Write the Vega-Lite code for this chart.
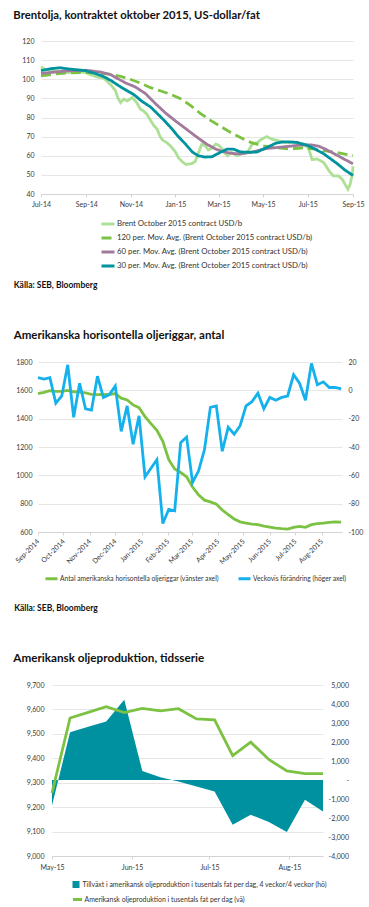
{
  "$schema": "https://vega.github.io/schema/vega-lite/v6.json",
  "padding": {"top": 9, "left": 0, "right": 0, "bottom": 0},
  "spacing": 41,
  "resolve": {"scale": {"color": "independent", "strokeDash": "independent"}, "legend": {"color": "independent", "strokeDash": "independent"}},
  "config": {
    "view": {"stroke": null},
    "font": "Lato",
    "axis": {"labelFont": "Lato", "labelFontSize": 7, "labelColor": "#3a3a3a", "gridColor": "#e6e6e6", "gridWidth": 1, "domainColor": "#d4d4d4", "tickColor": "#d4d4d4", "titleFont": "Lato", "labelOverlap": false, "labelFlush": false, "labelBound": false},
    "legend": {"labelFont": "Lato", "labelColor": "#333333", "padding": 0, "labelLimit": 500},
    "title": {"font": "Lato"}
  },
  "vconcat": [
    {
      "spacing": 12,
      "resolve": {"scale": {"color": "independent", "strokeDash": "independent"}, "legend": {"color": "independent", "strokeDash": "independent"}},
      "hconcat": [
        {"width": 1, "height": 1, "data": {"values": [{"s": 0}]}, "mark": {"type": "point", "size": 1, "opacity": 0}},
        {
          "width": 312,
          "height": 153,
          "title": {"text": "Brentolja, kontraktet oktober 2015, US-dollar/fat", "anchor": "start", "frame": "group", "dx": -27.7, "offset": 16, "font": "Lato", "fontSize": 11.3, "fontWeight": "bold", "color": "#111111"},
          "data": {"values": [
            {"date": "2014-07-01", "series": "Brent October 2015 contract USD/b", "value": 106.5},
            {"date": "2014-07-07", "series": "Brent October 2015 contract USD/b", "value": 105},
            {"date": "2014-07-16", "series": "Brent October 2015 contract USD/b", "value": 104.5},
            {"date": "2014-07-27", "series": "Brent October 2015 contract USD/b", "value": 104},
            {"date": "2014-08-07", "series": "Brent October 2015 contract USD/b", "value": 103.5},
            {"date": "2014-08-21", "series": "Brent October 2015 contract USD/b", "value": 104},
            {"date": "2014-08-31", "series": "Brent October 2015 contract USD/b", "value": 103.5},
            {"date": "2014-09-06", "series": "Brent October 2015 contract USD/b", "value": 102.5},
            {"date": "2014-09-16", "series": "Brent October 2015 contract USD/b", "value": 101.2},
            {"date": "2014-09-25", "series": "Brent October 2015 contract USD/b", "value": 100.5},
            {"date": "2014-09-29", "series": "Brent October 2015 contract USD/b", "value": 99.1},
            {"date": "2014-10-06", "series": "Brent October 2015 contract USD/b", "value": 96.5},
            {"date": "2014-10-11", "series": "Brent October 2015 contract USD/b", "value": 93.9},
            {"date": "2014-10-14", "series": "Brent October 2015 contract USD/b", "value": 90.4},
            {"date": "2014-10-18", "series": "Brent October 2015 contract USD/b", "value": 87.8},
            {"date": "2014-10-22", "series": "Brent October 2015 contract USD/b", "value": 89.6},
            {"date": "2014-10-27", "series": "Brent October 2015 contract USD/b", "value": 88.7},
            {"date": "2014-11-03", "series": "Brent October 2015 contract USD/b", "value": 90.4},
            {"date": "2014-11-09", "series": "Brent October 2015 contract USD/b", "value": 87.8},
            {"date": "2014-11-14", "series": "Brent October 2015 contract USD/b", "value": 84.4},
            {"date": "2014-11-18", "series": "Brent October 2015 contract USD/b", "value": 83.5},
            {"date": "2014-11-23", "series": "Brent October 2015 contract USD/b", "value": 81.7},
            {"date": "2014-11-28", "series": "Brent October 2015 contract USD/b", "value": 78.5},
            {"date": "2014-12-02", "series": "Brent October 2015 contract USD/b", "value": 76},
            {"date": "2014-12-07", "series": "Brent October 2015 contract USD/b", "value": 73.9},
            {"date": "2014-12-11", "series": "Brent October 2015 contract USD/b", "value": 70},
            {"date": "2014-12-15", "series": "Brent October 2015 contract USD/b", "value": 68},
            {"date": "2014-12-20", "series": "Brent October 2015 contract USD/b", "value": 66.9},
            {"date": "2014-12-25", "series": "Brent October 2015 contract USD/b", "value": 65.2},
            {"date": "2015-01-01", "series": "Brent October 2015 contract USD/b", "value": 62},
            {"date": "2015-01-05", "series": "Brent October 2015 contract USD/b", "value": 59},
            {"date": "2015-01-10", "series": "Brent October 2015 contract USD/b", "value": 57},
            {"date": "2015-01-15", "series": "Brent October 2015 contract USD/b", "value": 55.5},
            {"date": "2015-01-19", "series": "Brent October 2015 contract USD/b", "value": 55.6},
            {"date": "2015-01-24", "series": "Brent October 2015 contract USD/b", "value": 56},
            {"date": "2015-01-28", "series": "Brent October 2015 contract USD/b", "value": 57},
            {"date": "2015-02-02", "series": "Brent October 2015 contract USD/b", "value": 62},
            {"date": "2015-02-06", "series": "Brent October 2015 contract USD/b", "value": 66},
            {"date": "2015-02-11", "series": "Brent October 2015 contract USD/b", "value": 65.2},
            {"date": "2015-02-15", "series": "Brent October 2015 contract USD/b", "value": 63},
            {"date": "2015-02-20", "series": "Brent October 2015 contract USD/b", "value": 64},
            {"date": "2015-02-25", "series": "Brent October 2015 contract USD/b", "value": 66.1},
            {"date": "2015-03-01", "series": "Brent October 2015 contract USD/b", "value": 65.5},
            {"date": "2015-03-05", "series": "Brent October 2015 contract USD/b", "value": 64},
            {"date": "2015-03-08", "series": "Brent October 2015 contract USD/b", "value": 62.5},
            {"date": "2015-03-13", "series": "Brent October 2015 contract USD/b", "value": 60},
            {"date": "2015-03-19", "series": "Brent October 2015 contract USD/b", "value": 61.7},
            {"date": "2015-03-26", "series": "Brent October 2015 contract USD/b", "value": 60},
            {"date": "2015-04-02", "series": "Brent October 2015 contract USD/b", "value": 61},
            {"date": "2015-04-07", "series": "Brent October 2015 contract USD/b", "value": 61.5},
            {"date": "2015-04-11", "series": "Brent October 2015 contract USD/b", "value": 62.6},
            {"date": "2015-04-16", "series": "Brent October 2015 contract USD/b", "value": 66.1},
            {"date": "2015-04-23", "series": "Brent October 2015 contract USD/b", "value": 66.9},
            {"date": "2015-04-29", "series": "Brent October 2015 contract USD/b", "value": 68.7},
            {"date": "2015-05-06", "series": "Brent October 2015 contract USD/b", "value": 70},
            {"date": "2015-05-13", "series": "Brent October 2015 contract USD/b", "value": 68.7},
            {"date": "2015-05-22", "series": "Brent October 2015 contract USD/b", "value": 67.8},
            {"date": "2015-05-31", "series": "Brent October 2015 contract USD/b", "value": 66.9},
            {"date": "2015-06-07", "series": "Brent October 2015 contract USD/b", "value": 67.3},
            {"date": "2015-06-16", "series": "Brent October 2015 contract USD/b", "value": 66.9},
            {"date": "2015-06-25", "series": "Brent October 2015 contract USD/b", "value": 66.1},
            {"date": "2015-07-02", "series": "Brent October 2015 contract USD/b", "value": 64},
            {"date": "2015-07-07", "series": "Brent October 2015 contract USD/b", "value": 58},
            {"date": "2015-07-14", "series": "Brent October 2015 contract USD/b", "value": 58.3},
            {"date": "2015-07-23", "series": "Brent October 2015 contract USD/b", "value": 56.5},
            {"date": "2015-07-30", "series": "Brent October 2015 contract USD/b", "value": 52.2},
            {"date": "2015-08-05", "series": "Brent October 2015 contract USD/b", "value": 49.5},
            {"date": "2015-08-12", "series": "Brent October 2015 contract USD/b", "value": 49.5},
            {"date": "2015-08-17", "series": "Brent October 2015 contract USD/b", "value": 47.8},
            {"date": "2015-08-21", "series": "Brent October 2015 contract USD/b", "value": 45.2},
            {"date": "2015-08-25", "series": "Brent October 2015 contract USD/b", "value": 42.5},
            {"date": "2015-08-28", "series": "Brent October 2015 contract USD/b", "value": 45},
            {"date": "2015-08-31", "series": "Brent October 2015 contract USD/b", "value": 50},
            {"date": "2015-09-01", "series": "Brent October 2015 contract USD/b", "value": 54.5},
            {"date": "2014-07-01", "series": "120 per. Mov. Avg. (Brent October 2015 contract USD/b)", "value": 101.8},
            {"date": "2014-07-21", "series": "120 per. Mov. Avg. (Brent October 2015 contract USD/b)", "value": 102.8},
            {"date": "2014-08-10", "series": "120 per. Mov. Avg. (Brent October 2015 contract USD/b)", "value": 103.3},
            {"date": "2014-09-04", "series": "120 per. Mov. Avg. (Brent October 2015 contract USD/b)", "value": 103.5},
            {"date": "2014-09-20", "series": "120 per. Mov. Avg. (Brent October 2015 contract USD/b)", "value": 103.2},
            {"date": "2014-10-04", "series": "120 per. Mov. Avg. (Brent October 2015 contract USD/b)", "value": 102.6},
            {"date": "2014-10-18", "series": "120 per. Mov. Avg. (Brent October 2015 contract USD/b)", "value": 101.5},
            {"date": "2014-10-31", "series": "120 per. Mov. Avg. (Brent October 2015 contract USD/b)", "value": 100},
            {"date": "2014-11-14", "series": "120 per. Mov. Avg. (Brent October 2015 contract USD/b)", "value": 98},
            {"date": "2014-11-28", "series": "120 per. Mov. Avg. (Brent October 2015 contract USD/b)", "value": 95.6},
            {"date": "2014-12-11", "series": "120 per. Mov. Avg. (Brent October 2015 contract USD/b)", "value": 94},
            {"date": "2014-12-25", "series": "120 per. Mov. Avg. (Brent October 2015 contract USD/b)", "value": 92.2},
            {"date": "2015-01-08", "series": "120 per. Mov. Avg. (Brent October 2015 contract USD/b)", "value": 89.8},
            {"date": "2015-01-21", "series": "120 per. Mov. Avg. (Brent October 2015 contract USD/b)", "value": 86.5},
            {"date": "2015-02-04", "series": "120 per. Mov. Avg. (Brent October 2015 contract USD/b)", "value": 82.2},
            {"date": "2015-02-18", "series": "120 per. Mov. Avg. (Brent October 2015 contract USD/b)", "value": 78.5},
            {"date": "2015-03-06", "series": "120 per. Mov. Avg. (Brent October 2015 contract USD/b)", "value": 74.8},
            {"date": "2015-03-17", "series": "120 per. Mov. Avg. (Brent October 2015 contract USD/b)", "value": 72.3},
            {"date": "2015-03-31", "series": "120 per. Mov. Avg. (Brent October 2015 contract USD/b)", "value": 69.5},
            {"date": "2015-04-14", "series": "120 per. Mov. Avg. (Brent October 2015 contract USD/b)", "value": 67},
            {"date": "2015-04-27", "series": "120 per. Mov. Avg. (Brent October 2015 contract USD/b)", "value": 65.5},
            {"date": "2015-05-11", "series": "120 per. Mov. Avg. (Brent October 2015 contract USD/b)", "value": 64.5},
            {"date": "2015-05-25", "series": "120 per. Mov. Avg. (Brent October 2015 contract USD/b)", "value": 64},
            {"date": "2015-06-07", "series": "120 per. Mov. Avg. (Brent October 2015 contract USD/b)", "value": 63.5},
            {"date": "2015-06-25", "series": "120 per. Mov. Avg. (Brent October 2015 contract USD/b)", "value": 64.2},
            {"date": "2015-07-11", "series": "120 per. Mov. Avg. (Brent October 2015 contract USD/b)", "value": 63.5},
            {"date": "2015-07-25", "series": "120 per. Mov. Avg. (Brent October 2015 contract USD/b)", "value": 62.6},
            {"date": "2015-08-08", "series": "120 per. Mov. Avg. (Brent October 2015 contract USD/b)", "value": 61.8},
            {"date": "2015-08-21", "series": "120 per. Mov. Avg. (Brent October 2015 contract USD/b)", "value": 60.8},
            {"date": "2015-09-01", "series": "120 per. Mov. Avg. (Brent October 2015 contract USD/b)", "value": 60.2},
            {"date": "2014-07-01", "series": "60 per. Mov. Avg. (Brent October 2015 contract USD/b)", "value": 103},
            {"date": "2014-07-21", "series": "60 per. Mov. Avg. (Brent October 2015 contract USD/b)", "value": 103.8},
            {"date": "2014-08-10", "series": "60 per. Mov. Avg. (Brent October 2015 contract USD/b)", "value": 104.5},
            {"date": "2014-08-31", "series": "60 per. Mov. Avg. (Brent October 2015 contract USD/b)", "value": 104.7},
            {"date": "2014-09-20", "series": "60 per. Mov. Avg. (Brent October 2015 contract USD/b)", "value": 103.8},
            {"date": "2014-10-04", "series": "60 per. Mov. Avg. (Brent October 2015 contract USD/b)", "value": 102.5},
            {"date": "2014-10-24", "series": "60 per. Mov. Avg. (Brent October 2015 contract USD/b)", "value": 98.2},
            {"date": "2014-11-07", "series": "60 per. Mov. Avg. (Brent October 2015 contract USD/b)", "value": 96},
            {"date": "2014-11-21", "series": "60 per. Mov. Avg. (Brent October 2015 contract USD/b)", "value": 92.5},
            {"date": "2014-12-04", "series": "60 per. Mov. Avg. (Brent October 2015 contract USD/b)", "value": 87.5},
            {"date": "2014-12-18", "series": "60 per. Mov. Avg. (Brent October 2015 contract USD/b)", "value": 82.5},
            {"date": "2015-01-01", "series": "60 per. Mov. Avg. (Brent October 2015 contract USD/b)", "value": 78.2},
            {"date": "2015-01-15", "series": "60 per. Mov. Avg. (Brent October 2015 contract USD/b)", "value": 74.2},
            {"date": "2015-01-28", "series": "60 per. Mov. Avg. (Brent October 2015 contract USD/b)", "value": 70.4},
            {"date": "2015-02-13", "series": "60 per. Mov. Avg. (Brent October 2015 contract USD/b)", "value": 66},
            {"date": "2015-02-25", "series": "60 per. Mov. Avg. (Brent October 2015 contract USD/b)", "value": 63.5},
            {"date": "2015-03-08", "series": "60 per. Mov. Avg. (Brent October 2015 contract USD/b)", "value": 62},
            {"date": "2015-03-20", "series": "60 per. Mov. Avg. (Brent October 2015 contract USD/b)", "value": 61.2},
            {"date": "2015-03-31", "series": "60 per. Mov. Avg. (Brent October 2015 contract USD/b)", "value": 61},
            {"date": "2015-04-14", "series": "60 per. Mov. Avg. (Brent October 2015 contract USD/b)", "value": 61.8},
            {"date": "2015-04-23", "series": "60 per. Mov. Avg. (Brent October 2015 contract USD/b)", "value": 62.6},
            {"date": "2015-05-06", "series": "60 per. Mov. Avg. (Brent October 2015 contract USD/b)", "value": 63.8},
            {"date": "2015-05-20", "series": "60 per. Mov. Avg. (Brent October 2015 contract USD/b)", "value": 64.3},
            {"date": "2015-06-07", "series": "60 per. Mov. Avg. (Brent October 2015 contract USD/b)", "value": 65},
            {"date": "2015-06-21", "series": "60 per. Mov. Avg. (Brent October 2015 contract USD/b)", "value": 65.6},
            {"date": "2015-07-05", "series": "60 per. Mov. Avg. (Brent October 2015 contract USD/b)", "value": 65.7},
            {"date": "2015-07-16", "series": "60 per. Mov. Avg. (Brent October 2015 contract USD/b)", "value": 65},
            {"date": "2015-07-25", "series": "60 per. Mov. Avg. (Brent October 2015 contract USD/b)", "value": 63.5},
            {"date": "2015-08-08", "series": "60 per. Mov. Avg. (Brent October 2015 contract USD/b)", "value": 60.7},
            {"date": "2015-08-21", "series": "60 per. Mov. Avg. (Brent October 2015 contract USD/b)", "value": 58},
            {"date": "2015-09-01", "series": "60 per. Mov. Avg. (Brent October 2015 contract USD/b)", "value": 55.8},
            {"date": "2014-07-01", "series": "30 per. Mov. Avg. (Brent October 2015 contract USD/b)", "value": 104.5},
            {"date": "2014-07-14", "series": "30 per. Mov. Avg. (Brent October 2015 contract USD/b)", "value": 105.5},
            {"date": "2014-07-27", "series": "30 per. Mov. Avg. (Brent October 2015 contract USD/b)", "value": 106},
            {"date": "2014-08-10", "series": "30 per. Mov. Avg. (Brent October 2015 contract USD/b)", "value": 105.3},
            {"date": "2014-08-31", "series": "30 per. Mov. Avg. (Brent October 2015 contract USD/b)", "value": 104.5},
            {"date": "2014-09-13", "series": "30 per. Mov. Avg. (Brent October 2015 contract USD/b)", "value": 103},
            {"date": "2014-09-23", "series": "30 per. Mov. Avg. (Brent October 2015 contract USD/b)", "value": 101.7},
            {"date": "2014-10-04", "series": "30 per. Mov. Avg. (Brent October 2015 contract USD/b)", "value": 99.5},
            {"date": "2014-10-20", "series": "30 per. Mov. Avg. (Brent October 2015 contract USD/b)", "value": 95.5},
            {"date": "2014-11-05", "series": "30 per. Mov. Avg. (Brent October 2015 contract USD/b)", "value": 92},
            {"date": "2014-11-16", "series": "30 per. Mov. Avg. (Brent October 2015 contract USD/b)", "value": 88.5},
            {"date": "2014-11-28", "series": "30 per. Mov. Avg. (Brent October 2015 contract USD/b)", "value": 85.5},
            {"date": "2014-12-14", "series": "30 per. Mov. Avg. (Brent October 2015 contract USD/b)", "value": 79.5},
            {"date": "2014-12-25", "series": "30 per. Mov. Avg. (Brent October 2015 contract USD/b)", "value": 75},
            {"date": "2015-01-05", "series": "30 per. Mov. Avg. (Brent October 2015 contract USD/b)", "value": 70},
            {"date": "2015-01-15", "series": "30 per. Mov. Avg. (Brent October 2015 contract USD/b)", "value": 66},
            {"date": "2015-01-24", "series": "30 per. Mov. Avg. (Brent October 2015 contract USD/b)", "value": 62},
            {"date": "2015-02-01", "series": "30 per. Mov. Avg. (Brent October 2015 contract USD/b)", "value": 60},
            {"date": "2015-02-11", "series": "30 per. Mov. Avg. (Brent October 2015 contract USD/b)", "value": 59.3},
            {"date": "2015-02-20", "series": "30 per. Mov. Avg. (Brent October 2015 contract USD/b)", "value": 59.5},
            {"date": "2015-03-03", "series": "30 per. Mov. Avg. (Brent October 2015 contract USD/b)", "value": 61.7},
            {"date": "2015-03-13", "series": "30 per. Mov. Avg. (Brent October 2015 contract USD/b)", "value": 63.5},
            {"date": "2015-03-21", "series": "30 per. Mov. Avg. (Brent October 2015 contract USD/b)", "value": 63.5},
            {"date": "2015-03-31", "series": "30 per. Mov. Avg. (Brent October 2015 contract USD/b)", "value": 62},
            {"date": "2015-04-14", "series": "30 per. Mov. Avg. (Brent October 2015 contract USD/b)", "value": 61.8},
            {"date": "2015-04-23", "series": "30 per. Mov. Avg. (Brent October 2015 contract USD/b)", "value": 62},
            {"date": "2015-05-06", "series": "30 per. Mov. Avg. (Brent October 2015 contract USD/b)", "value": 64.3},
            {"date": "2015-05-18", "series": "30 per. Mov. Avg. (Brent October 2015 contract USD/b)", "value": 66.5},
            {"date": "2015-05-29", "series": "30 per. Mov. Avg. (Brent October 2015 contract USD/b)", "value": 67.3},
            {"date": "2015-06-16", "series": "30 per. Mov. Avg. (Brent October 2015 contract USD/b)", "value": 67},
            {"date": "2015-06-30", "series": "30 per. Mov. Avg. (Brent October 2015 contract USD/b)", "value": 65.5},
            {"date": "2015-07-11", "series": "30 per. Mov. Avg. (Brent October 2015 contract USD/b)", "value": 63.5},
            {"date": "2015-07-23", "series": "30 per. Mov. Avg. (Brent October 2015 contract USD/b)", "value": 61},
            {"date": "2015-08-10", "series": "30 per. Mov. Avg. (Brent October 2015 contract USD/b)", "value": 56},
            {"date": "2015-08-21", "series": "30 per. Mov. Avg. (Brent October 2015 contract USD/b)", "value": 52.5},
            {"date": "2015-09-01", "series": "30 per. Mov. Avg. (Brent October 2015 contract USD/b)", "value": 49.7}
          ]},
          "mark": {"type": "line", "strokeWidth": 2.8},
          "encoding": {
            "x": {"field": "date", "type": "temporal",
              "scale": {"type": "utc", "domain": [{"year": 2014, "month": 7, "date": 1, "utc": true}, {"year": 2015, "month": 9, "date": 1, "utc": true}]},
              "axis": {"title": "Källa: SEB, Bloomberg", "titleX": -27.7, "titleY": 93, "titleAlign": "left", "titleAnchor": null, "titleBaseline": "alphabetic", "titleFontSize": 8.5, "titleFontWeight": "bold", "titleColor": "#111111",
                "values": [{"year": 2014, "month": 7, "date": 1, "utc": true}, {"year": 2014, "month": 9, "date": 1, "utc": true}, {"year": 2014, "month": 11, "date": 1, "utc": true}, {"year": 2015, "month": 1, "date": 1, "utc": true}, {"year": 2015, "month": 3, "date": 1, "utc": true}, {"year": 2015, "month": 5, "date": 1, "utc": true}, {"year": 2015, "month": 7, "date": 1, "utc": true}, {"year": 2015, "month": 9, "date": 1, "utc": true}],
                "format": "%b-%y", "grid": false, "domain": true, "ticks": true, "tickSize": 3, "labelPadding": 3}},
            "y": {"field": "value", "type": "quantitative", "scale": {"domain": [40, 120]},
              "axis": {"title": null, "values": [40, 50, 60, 70, 80, 90, 100, 110, 120], "grid": true, "domain": false, "ticks": false, "labelPadding": 7}},
            "color": {"field": "series", "type": "nominal",
              "scale": {"domain": ["Brent October 2015 contract USD/b", "120 per. Mov. Avg. (Brent October 2015 contract USD/b)", "60 per. Mov. Avg. (Brent October 2015 contract USD/b)", "30 per. Mov. Avg. (Brent October 2015 contract USD/b)"], "range": ["#addf95", "#7cc242", "#a27a9c", "#00939e"]},
              "legend": {"title": null, "orient": "none", "legendX": 59, "legendY": 175, "direction": "vertical", "symbolType": "stroke", "symbolSize": 169, "symbolStrokeWidth": 3, "labelFontSize": 7.8, "rowPadding": -6, "labelOffset": 1}},
            "strokeDash": {"field": "series", "type": "nominal",
              "scale": {"domain": ["Brent October 2015 contract USD/b", "120 per. Mov. Avg. (Brent October 2015 contract USD/b)", "60 per. Mov. Avg. (Brent October 2015 contract USD/b)", "30 per. Mov. Avg. (Brent October 2015 contract USD/b)"], "range": [[1, 0], [10, 5], [1, 0], [1, 0]]},
              "legend": {"title": null, "orient": "none", "legendX": 59, "legendY": 175, "direction": "vertical", "symbolType": "stroke", "symbolSize": 169, "symbolStrokeWidth": 3, "labelFontSize": 7.8, "rowPadding": -6, "labelOffset": 1}}
          }
        }
      ]
    },
    {
      "spacing": 12,
      "resolve": {"scale": {"color": "independent"}, "legend": {"color": "independent"}},
      "hconcat": [
        {"width": 1, "height": 1, "data": {"values": [{"s": 0}]}, "mark": {"type": "point", "size": 1, "opacity": 0}},
        {
          "width": 304,
          "height": 170,
          "title": {"text": "Amerikanska horisontella oljeriggar, antal", "anchor": "start", "frame": "group", "dx": -24.3, "offset": 16, "font": "Lato", "fontSize": 11.5, "fontWeight": "bold", "color": "#111111"},
          "data": {"values": [
            {"date": "2014-09-01", "rigs": 1577, "change": 9},
            {"date": "2014-09-08", "rigs": 1586, "change": 8},
            {"date": "2014-09-15", "rigs": 1597, "change": 9},
            {"date": "2014-09-22", "rigs": 1593, "change": -9},
            {"date": "2014-09-29", "rigs": 1593, "change": -4},
            {"date": "2014-10-06", "rigs": 1600, "change": 18},
            {"date": "2014-10-13", "rigs": 1590, "change": -19},
            {"date": "2014-10-20", "rigs": 1588, "change": 5},
            {"date": "2014-10-27", "rigs": 1582, "change": -13},
            {"date": "2014-11-03", "rigs": 1572, "change": -14},
            {"date": "2014-11-10", "rigs": 1570, "change": 10},
            {"date": "2014-11-17", "rigs": 1572, "change": -5},
            {"date": "2014-11-24", "rigs": 1570, "change": -3},
            {"date": "2014-12-01", "rigs": 1577, "change": 3},
            {"date": "2014-12-08", "rigs": 1545, "change": -29},
            {"date": "2014-12-15", "rigs": 1532, "change": -11},
            {"date": "2014-12-22", "rigs": 1497, "change": -38},
            {"date": "2014-12-29", "rigs": 1478, "change": -18},
            {"date": "2015-01-05", "rigs": 1415, "change": -61},
            {"date": "2015-01-12", "rigs": 1365, "change": -55},
            {"date": "2015-01-19", "rigs": 1318, "change": -49},
            {"date": "2015-01-26", "rigs": 1240, "change": -94},
            {"date": "2015-02-02", "rigs": 1110, "change": -84},
            {"date": "2015-02-09", "rigs": 1045, "change": -85},
            {"date": "2015-02-16", "rigs": 1020, "change": -37},
            {"date": "2015-02-23", "rigs": 990, "change": -33},
            {"date": "2015-03-02", "rigs": 917, "change": -65},
            {"date": "2015-03-09", "rigs": 862, "change": -57},
            {"date": "2015-03-16", "rigs": 825, "change": -42},
            {"date": "2015-03-23", "rigs": 813, "change": -12},
            {"date": "2015-03-30", "rigs": 797, "change": -11},
            {"date": "2015-04-06", "rigs": 755, "change": -43},
            {"date": "2015-04-13", "rigs": 722, "change": -26},
            {"date": "2015-04-20", "rigs": 692, "change": -31},
            {"date": "2015-04-27", "rigs": 672, "change": -25},
            {"date": "2015-05-04", "rigs": 663, "change": -11},
            {"date": "2015-05-11", "rigs": 656, "change": -8},
            {"date": "2015-05-18", "rigs": 652, "change": -2},
            {"date": "2015-05-25", "rigs": 642, "change": -13},
            {"date": "2015-06-01", "rigs": 635, "change": -5},
            {"date": "2015-06-08", "rigs": 628, "change": -7},
            {"date": "2015-06-15", "rigs": 624, "change": -5},
            {"date": "2015-06-22", "rigs": 621, "change": -4},
            {"date": "2015-06-29", "rigs": 632, "change": 11},
            {"date": "2015-07-06", "rigs": 640, "change": 5},
            {"date": "2015-07-13", "rigs": 633, "change": -7},
            {"date": "2015-07-20", "rigs": 652, "change": 19},
            {"date": "2015-07-27", "rigs": 659, "change": 4},
            {"date": "2015-08-03", "rigs": 663, "change": 6},
            {"date": "2015-08-10", "rigs": 668, "change": 2},
            {"date": "2015-08-17", "rigs": 672, "change": 2},
            {"date": "2015-08-24", "rigs": 670, "change": 1}
          ]},
          "encoding": {
            "x": {"field": "date", "type": "temporal",
              "scale": {"type": "utc", "domain": [{"year": 2014, "month": 9, "date": 1, "utc": true}, {"year": 2015, "month": 8, "date": 25, "utc": true}]},
              "axis": {"title": "Källa: SEB, Bloomberg", "titleX": -24.3, "titleY": 78, "titleAlign": "left", "titleAnchor": null, "titleBaseline": "alphabetic", "titleFontSize": 8.5, "titleFontWeight": "bold", "titleColor": "#111111",
                "values": [{"year": 2014, "month": 9, "date": 1, "utc": true}, {"year": 2014, "month": 10, "date": 1, "utc": true}, {"year": 2014, "month": 11, "date": 1, "utc": true}, {"year": 2014, "month": 12, "date": 1, "utc": true}, {"year": 2015, "month": 1, "date": 1, "utc": true}, {"year": 2015, "month": 2, "date": 1, "utc": true}, {"year": 2015, "month": 3, "date": 1, "utc": true}, {"year": 2015, "month": 4, "date": 1, "utc": true}, {"year": 2015, "month": 5, "date": 1, "utc": true}, {"year": 2015, "month": 6, "date": 1, "utc": true}, {"year": 2015, "month": 7, "date": 1, "utc": true}, {"year": 2015, "month": 8, "date": 1, "utc": true}],
                "format": "%b-%Y", "labelAngle": -45, "labelAlign": "right", "labelBaseline": "middle", "grid": false, "domain": true, "ticks": true, "tickSize": 3, "labelPadding": 5}}
          },
          "layer": [
            {
              "mark": {"type": "line", "strokeWidth": 2.8},
              "encoding": {
                "y": {"field": "rigs", "type": "quantitative", "scale": {"domain": [600, 1800]},
                  "axis": {"orient": "left", "title": null, "values": [600, 800, 1000, 1200, 1400, 1600, 1800], "labelExpr": "'' + datum.value", "grid": true, "domain": false, "ticks": false, "labelPadding": 6}},
                "color": {"datum": "Antal amerikanska horisontella oljeriggar (vänster axel)",
                  "scale": {"domain": ["Antal amerikanska horisontella oljeriggar (vänster axel)", "Veckovis förändring (höger axel)"], "range": ["#7cc242", "#14b1ec"]},
                  "legend": {"title": null, "orient": "none", "legendX": 6, "legendY": 209, "direction": "horizontal", "symbolType": "stroke", "symbolSize": 144, "symbolStrokeWidth": 3, "labelFontSize": 6.7, "columnPadding": 13, "labelOffset": 1}}
              }
            },
            {
              "mark": {"type": "line", "strokeWidth": 2.8},
              "encoding": {
                "y": {"field": "change", "type": "quantitative", "scale": {"domain": [-100, 20]},
                  "axis": {"orient": "right", "title": null, "values": [-100, -80, -60, -40, -20, 0, 20], "grid": false, "domain": false, "ticks": false, "labelPadding": 6, "labelExpr": "datum.value < 0 ? '-' + (-datum.value) : '' + datum.value"}},
                "color": {"datum": "Veckovis förändring (höger axel)"}
              }
            }
          ],
          "resolve": {"scale": {"y": "independent"}}
        }
      ]
    },
    {
      "spacing": 12,
      "resolve": {"scale": {"color": "independent"}, "legend": {"color": "independent"}},
      "hconcat": [
        {"width": 1, "height": 1, "data": {"values": [{"s": 0}]}, "mark": {"type": "point", "size": 1, "opacity": 0}},
        {
          "width": 271,
          "height": 171,
          "title": {"text": "Amerikansk oljeproduktion, tidsserie", "anchor": "start", "frame": "group", "dx": -38.7, "offset": 16, "font": "Lato", "fontSize": 11.7, "fontWeight": "bold", "color": "#111111"},
          "data": {"values": [
            {"date": "2015-05-01", "prod": 9258, "growth": -1340},
            {"date": "2015-05-08", "prod": 9565, "growth": 2517},
            {"date": "2015-05-15", "prod": 9588, "growth": 2800},
            {"date": "2015-05-22", "prod": 9611, "growth": 3074},
            {"date": "2015-05-29", "prod": 9587, "growth": 4230},
            {"date": "2015-06-05", "prod": 9604, "growth": 468},
            {"date": "2015-06-12", "prod": 9594, "growth": 150},
            {"date": "2015-06-19", "prod": 9603, "growth": -79},
            {"date": "2015-06-26", "prod": 9561, "growth": -340},
            {"date": "2015-07-03", "prod": 9557, "growth": -604},
            {"date": "2015-07-10", "prod": 9411, "growth": -2354},
            {"date": "2015-07-17", "prod": 9466, "growth": -1829},
            {"date": "2015-07-24", "prod": 9395, "growth": -2213},
            {"date": "2015-07-31", "prod": 9348, "growth": -2738},
            {"date": "2015-08-07", "prod": 9337, "growth": -1040},
            {"date": "2015-08-14", "prod": 9337, "growth": -1655}
          ]},
          "encoding": {
            "x": {"field": "date", "type": "temporal",
              "scale": {"type": "utc", "domain": [{"year": 2015, "month": 5, "date": 1, "utc": true}, {"year": 2015, "month": 8, "date": 14, "utc": true}]},
              "axis": {"title": null,
                "values": [{"year": 2015, "month": 5, "date": 1, "utc": true}, {"year": 2015, "month": 6, "date": 1, "utc": true}, {"year": 2015, "month": 7, "date": 1, "utc": true}, {"year": 2015, "month": 8, "date": 1, "utc": true}],
                "format": "%b-%y", "grid": false, "domain": true, "ticks": true, "tickSize": 3, "labelPadding": 4}}
          },
          "layer": [
            {
              "mark": {"type": "area", "color": "#0091a1", "opacity": 1},
              "encoding": {
                "y": {"field": "growth", "type": "quantitative", "scale": {"domain": [-4000, 5000]},
                  "axis": {"orient": "right", "title": null, "values": [-4000, -3000, -2000, -1000, 0, 1000, 2000, 3000, 4000, 5000], "grid": false, "domain": false, "ticks": false, "labelAlign": "right", "labelPadding": 25.5, "labelExpr": "datum.value == 0 ? '-' : (datum.value < 0 ? '-' + format(-datum.value, ',') : format(datum.value, ','))"}},
                "color": {"datum": "Tillväxt i amerikansk oljeproduktion i tusentals fat per dag, 4 veckor/4 veckor (hö)", "scale": {"range": ["#0091a1"]},
                  "legend": {"title": null, "orient": "none", "legendX": 19.5, "legendY": 195, "symbolType": "square", "symbolSize": 49, "labelFontSize": 6.9, "labelOffset": 2}}
              }
            },
            {
              "mark": {"type": "line", "strokeWidth": 2.8, "color": "#7cc242"},
              "encoding": {
                "y": {"field": "prod", "type": "quantitative", "scale": {"domain": [9000, 9700]},
                  "axis": {"orient": "left", "title": null, "values": [9000, 9100, 9200, 9300, 9400, 9500, 9600, 9700], "labelExpr": "format(datum.value, ',')", "grid": true, "domain": false, "ticks": false, "labelPadding": 8}},
                "color": {"datum": "Amerikansk oljeproduktion i tusentals fat per dag (vä)", "scale": {"range": ["#7cc242"]},
                  "legend": {"title": null, "orient": "none", "legendX": 19.5, "legendY": 208.5, "symbolType": "stroke", "symbolSize": 81, "symbolStrokeWidth": 3, "labelFontSize": 6.9, "labelOffset": 1}}
              }
            }
          ],
          "resolve": {"scale": {"y": "independent", "color": "independent"}, "legend": {"color": "independent"}}
        }
      ]
    }
  ]
}
